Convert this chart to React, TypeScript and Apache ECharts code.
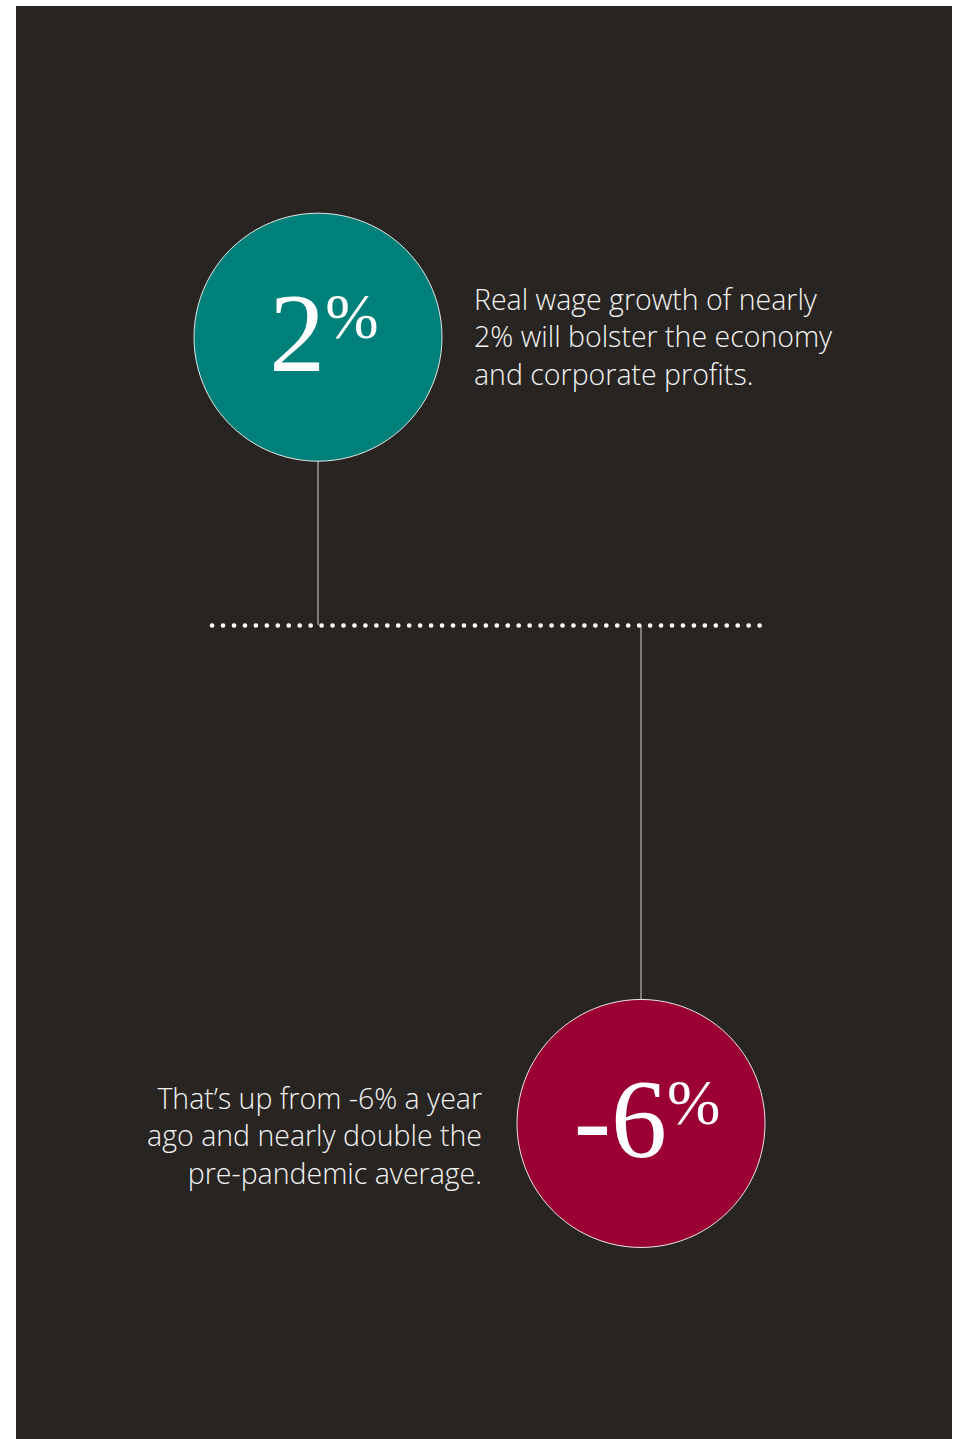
import React, { useEffect, useRef } from "react";
import * as echarts from "echarts";

// ---- data ----
const categories = ["Real wage growth (now)", "Real wage growth (a year ago)"];
const values = [2, -6]; // percent
const valueLabels = ["2", "-6"];
const descriptions = [
  ["Real wage growth of nearly", "2% will bolster the economy", "and corporate profits."],
  ["That\u2019s up from -6% a year", "ago and nearly double the", "pre-pandemic average."],
];
const circleColors = ["#00807a", "#9b0032"];

// display scale: signed square root (chart is not drawn linear)
const toPos = (v: number) => Math.sign(v) * Math.sqrt(Math.abs(v));

export default function App() {
  const ref = useRef<HTMLDivElement>(null);
  useEffect(() => {
    if (!ref.current) return;
    const chart = echarts.init(ref.current, undefined, { renderer: "svg" });
    const pts = values.map((v, i) => [i, toPos(v)]);
    const sansFont = "'Open Sans', 'Noto Sans', sans-serif";
    const serifFont = "'Liberation Serif', 'DejaVu Serif', serif";
    chart.setOption({
      animation: false,
      backgroundColor: "#282421",
      grid: { left: 140.5, width: 646, top: 8.5, bottom: 0 },
      xAxis: {
        type: "value",
        min: -0.5,
        max: 1.5,
        show: false,
      },
      yAxis: {
        type: "value",
        min: -4,
        max: 3,
        show: false,
      },
      series: [
        {
          name: "stems",
          type: "bar",
          barWidth: 1,
          z: 1,
          silent: true,
          itemStyle: { color: "#d4d4d4", opacity: 1 },
          data: pts,
          markLine: {
            silent: true,
            symbol: "none",
            label: { show: false },
            lineStyle: {
              color: "#ffffff",
              width: 4.6,
              type: [0.1, 10.85],
              cap: "round",
              opacity: 1,
            },
            data: [[{ coord: [-0.328, 0] }, { coord: [1.4, 0] }]],
          },
        },
        {
          name: "values",
          type: "scatter",
          z: 3,
          symbolSize: 248,
          data: pts.map((p, i) => ({
            value: p,
            name: categories[i],
            itemStyle: {
              color: circleColors[i],
              borderColor: "#e6e6e6",
              borderWidth: 1,
              opacity: 1,
            },
          })),
          label: {
            show: true,
            position: "inside",
            offset: [6, -4],
            formatter: (p: any) => `{n|${valueLabels[p.dataIndex]}}{p|%}`,
            rich: {
              n: {
                fontFamily: serifFont,
                fontSize: 112,
                color: "#ffffff",
                lineHeight: 112,
              },
              p: {
                fontFamily: serifFont,
                fontSize: 64,
                color: "#ffffff",
                lineHeight: 64,
                verticalAlign: "top",
                padding: [7, 0, 0, 0],
              },
            },
          },
        },
        {
          name: "descriptions",
          type: "scatter",
          z: 2,
          silent: true,
          symbolSize: 248,
          itemStyle: { color: "transparent", opacity: 1 },
          data: pts.map((p, i) => ({
            value: p,
            name: categories[i],
            label:
              i === 0
                ? { position: "right", distance: 32, offset: [0, -1] }
                : { position: "left", distance: 35, offset: [0, 12] },
          })),
          label: {
            show: true,
            formatter: (p: any) => descriptions[p.dataIndex].join("\n"),
            fontFamily: sansFont,
            fontWeight: 300,
            fontSize: 28.5,
            lineHeight: 37.5,
            color: "#f4f4f4",
          },
        },
      ],
    });
    return () => chart.dispose();
  }, []);
  return (
    <div
      ref={ref}
      style={{ position: "absolute", left: 16, top: 6, width: 936, height: 1433 }}
    />
  );
}
